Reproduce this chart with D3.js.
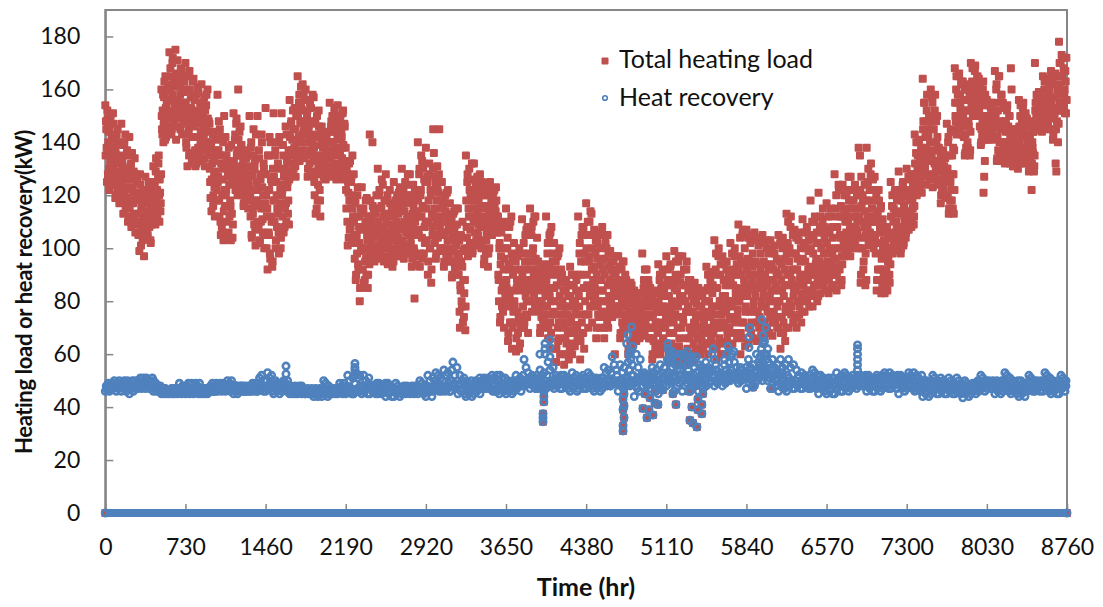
<!DOCTYPE html>
<html>
<head>
<meta charset="utf-8">
<script src="https://cdn.jsdelivr.net/npm/d3@7"></script>
<style>
  html, body { margin: 0; padding: 0; background: #fff; }
  svg { display: block; font-family: Lato, "Open Sans", sans-serif; }
</style>
</head>
<body>
<div id="chart"></div>
<script>
// Values, one row = 73 hours of the year
const loadValues = [
  154,148,138,152,128,144,122,136,150,131,141,126,
  147,125,138,119,133,143,122,129,140,117,135,127,
  147,120,131,113,139,126,143,116,123,135,110,128,
  142,118,130,108,136,122,112,127,134,106,120,125,
  125,110,118,99,128,106,115,121,103,112,97,119,
  127,112,120,104,117,125,108,122,102,115,110,118,
  131,115,124,109,134,119,112,127,135,110,121,117,
  160,145,152,140,157,148,165,142,155,150,162,146,
  174,150,165,143,158,172,147,161,155,175,141,153,
  171,152,163,146,158,168,150,143,160,155,165,148,
  170,140,160,131,152,145,167,136,157,148,133,163,
  164,135,150,131,158,142,161,138,147,133,155,144,
  162,133,150,138,157,131,145,154,140,160,135,148,
  147,125,138,114,132,143,120,128,112,135,141,122,
  158,127,148,112,135,105,142,120,130,103,150,116,
  142,122,133,105,128,138,112,118,103,131,125,109,
  151,128,141,122,147,135,120,160,130,144,125,138,
  139,122,131,116,136,126,118,134,128,121,115,124,
  150,120,138,105,128,113,145,109,133,101,118,125,
  150,117,137,102,128,110,143,123,106,132,100,115,
  153,120,112,92,135,105,142,96,126,110,93,130,
  151,118,135,100,125,108,140,113,98,130,122,104,
  151,122,139,106,129,115,146,110,133,125,118,109,
  156,135,147,128,141,152,130,138,145,127,150,133,
  165,140,155,133,148,161,137,152,143,158,135,146,
  160,137,150,127,145,156,132,142,153,129,147,139,
  157,125,143,113,135,150,118,130,146,122,112,139,
  146,130,138,127,142,133,126,140,136,129,144,131,
  155,134,146,127,150,140,130,153,137,144,126,148,
  154,135,146,128,150,132,142,138,152,126,147,130,
  138,115,128,101,121,132,107,118,125,103,135,112,
  128,105,118,88,112,98,123,92,108,80,115,100,
  123,100,113,87,108,95,118,90,105,85,110,98,
  143,118,112,100,140,108,115,95,105,110,120,98,
  130,108,120,96,115,103,126,100,112,95,118,105,
  128,105,118,94,112,100,122,97,109,115,93,107,
  125,105,116,97,110,120,101,113,107,123,99,118,
  130,108,120,96,114,125,101,117,111,128,98,105,
  128,107,118,93,113,124,100,81,110,120,97,105,
  140,112,128,93,120,135,104,116,130,98,108,125,
  138,110,127,90,118,132,100,122,87,113,105,145,
  136,112,127,96,118,131,104,121,145,108,115,99,
  125,105,116,93,110,120,100,113,97,122,107,95,
  117,100,110,89,105,113,95,108,92,115,102,98,
  115,90,103,70,84,95,78,110,88,74,100,69,
  135,108,125,97,115,130,102,120,112,132,99,118,
  132,110,122,101,115,127,105,118,112,128,108,100,
  125,103,115,94,110,120,98,106,123,93,112,100,
  125,108,118,105,113,121,110,116,107,123,112,106,
  112,88,100,72,94,106,78,85,110,70,96,82,
  115,85,100,65,92,108,72,80,112,62,96,76,
  102,78,92,61,85,97,68,74,100,64,88,71,
  111,85,98,70,92,105,75,80,108,68,95,88,
  115,92,105,76,98,110,82,88,112,78,95,85,
  95,80,90,68,85,74,92,70,78,88,72,82,
  112,85,98,66,92,105,72,80,108,62,95,76,
  102,80,92,57,86,97,65,72,100,60,88,75,
  90,72,84,56,78,66,88,60,75,82,58,69,
  93,74,86,60,80,68,90,63,77,84,71,65,
  112,82,98,58,90,105,68,75,108,62,95,85,
  117,90,105,70,97,110,78,85,113,72,100,93,
  107,85,98,66,90,102,75,80,105,70,94,88,
  108,84,96,66,90,102,74,80,105,70,93,87,
  99,82,92,74,87,95,78,60,90,84,76,97,
  97,78,88,66,82,92,72,75,95,68,85,80,
  88,72,82,60,76,85,65,70,86,62,79,74,
  84,72,78,65,80,70,75,83,66,77,73,68,
  98,78,85,67,92,72,82,75,70,88,66,80,
  85,70,80,58,75,65,83,60,72,78,62,68,
  94,76,88,60,82,70,90,65,78,85,63,72,
  97,75,88,57,82,68,93,62,78,86,59,72,
  99,78,90,57,84,70,95,63,80,87,60,74,
  97,74,86,56,80,66,92,60,76,84,58,70,
  88,70,82,57,76,64,85,60,72,79,62,67,
  85,70,78,60,75,65,82,62,72,68,80,64,
  93,74,85,60,80,68,88,65,76,83,62,71,
  103,78,92,58,85,70,97,64,80,90,60,75,
  97,76,88,60,82,70,92,65,78,86,62,73,
  102,80,92,64,86,74,97,68,83,90,66,77,
  109,82,97,60,90,72,105,66,85,94,63,78,
  107,84,96,64,90,76,102,68,86,93,66,80,
  106,84,95,65,90,76,101,70,86,92,67,80,
  105,85,95,66,90,78,100,70,87,92,68,82,
  103,84,94,67,88,76,98,72,85,91,70,80,
  105,84,95,62,88,74,100,68,82,92,65,78,
  113,90,102,70,95,80,108,75,88,98,72,85,
  107,86,98,70,92,80,103,75,88,95,72,83,
  111,90,102,76,95,84,106,80,88,99,78,93,
  118,92,105,78,98,86,110,82,94,102,80,90,
  121,95,108,83,100,90,111,86,98,104,84,92,
  117,95,107,83,100,90,112,86,98,104,85,92,
  128,100,115,84,108,93,124,88,105,112,86,97,
  124,105,115,97,110,100,120,98,112,127,103,107,
  127,108,118,100,112,104,122,101,115,107,110,120,
  138,115,135,87,127,100,120,92,110,124,86,105,
  138,112,125,101,118,106,128,104,115,122,102,110,
  127,105,118,84,112,92,122,88,108,115,83,98,
  111,92,103,83,98,87,108,84,95,100,90,105,
  125,105,116,98,110,102,121,100,113,107,119,103,
  129,108,120,98,113,104,124,101,116,110,122,106,
  130,113,122,107,118,110,126,108,120,115,128,112,
  143,128,136,120,131,125,140,122,133,127,138,130,
  164,148,155,132,142,124,152,136,145,128,150,140,
  160,145,157,123,137,128,152,133,148,126,142,130,
  138,126,133,117,129,122,136,120,131,125,135,127,
  147,130,140,113,125,118,144,122,135,115,128,137,
  168,150,160,143,155,147,165,145,158,152,163,148,
  163,148,156,135,143,138,160,140,152,146,158,137,
  170,155,163,150,158,153,167,151,160,156,165,152,
  164,150,157,139,145,142,160,121,127,133,154,148,
  156,145,150,141,148,143,153,142,147,144,155,146,
  167,150,160,133,142,137,165,140,155,145,158,135,
  155,140,148,132,144,136,152,134,146,138,150,142,
  168,160,145,131,140,134,143,137,132,139,135,142,
  156,140,150,132,145,136,153,134,147,138,151,142,
  149,135,143,129,138,133,146,122,140,136,144,131,
  170,155,150,145,157,148,159,146,152,147,154,149,
  165,152,160,145,156,148,163,147,158,150,162,153,
  167,155,162,141,150,145,165,132,129,148,158,152,
  178,170,165,155,173,160,152,168,158,151,163,172
];

// the thick middle of the red cloud, second reading per row
const loadCoreValues = [
  135,145,125,149,140,130,146,133,127,143,137,151,
  130,124,141,136,120,128,145,132,126,139,123,134,
  125,133,118,128,140,122,115,130,137,119,127,112,
  115,126,132,110,123,117,129,113,121,128,109,119,
  113,105,120,109,124,101,116,108,122,111,104,117,
  107,114,121,105,118,111,124,103,116,109,119,113,
  113,125,118,129,111,122,116,132,120,126,114,128,
  150,143,158,147,163,141,153,145,156,149,160,144,
  160,168,152,145,170,156,149,163,146,154,166,151,
  156,165,149,161,145,153,167,151,159,147,163,155,
  155,138,165,143,150,135,160,147,153,132,142,158,
  146,156,137,152,132,148,142,159,135,150,139,153,
  147,137,155,142,134,152,146,158,139,149,136,144,
  130,119,140,126,136,116,133,123,144,129,118,137,
  125,137,118,145,110,132,108,126,140,114,122,135,
  120,135,110,127,106,124,130,116,139,113,104,126,
  133,127,143,124,149,137,129,141,122,135,146,131,
  127,120,133,117,129,123,137,119,131,125,135,118,
  127,112,140,104,122,135,116,130,107,143,118,110,
  122,108,134,103,126,115,140,111,120,130,105,117,
  128,100,115,135,106,122,98,140,112,125,95,118,
  127,110,137,103,120,115,132,106,142,117,100,124,
  120,112,135,127,108,130,117,143,123,113,137,126,
  142,132,148,137,129,145,135,153,131,140,150,134,
  150,142,158,136,147,153,140,162,144,134,156,148,
  143,135,152,130,146,140,155,128,148,136,158,133,
  138,120,148,128,115,142,124,152,133,118,145,130,
  135,128,141,132,127,138,130,143,134,129,140,137,
  140,130,148,135,128,144,132,151,138,127,146,142,
  141,131,148,136,129,144,134,151,139,127,146,133,
  122,130,110,125,104,118,133,108,127,115,120,102,
  110,96,117,90,105,120,94,112,102,85,108,99,
  107,92,115,100,88,110,96,119,103,90,112,94,
  112,102,107,97,116,104,110,99,113,106,101,108,
  110,100,122,106,98,116,104,124,108,97,113,102,
  110,101,120,96,113,106,117,99,108,103,115,95,
  112,100,118,106,98,114,104,121,109,102,116,97,
  115,103,122,110,98,118,106,124,112,100,120,108,
  112,102,120,96,109,116,99,122,105,94,114,107,
  118,105,130,98,122,112,133,96,115,126,102,110,
  115,103,125,95,110,128,100,120,92,108,130,112,
  115,102,125,98,110,122,105,128,112,100,118,106,
  110,100,118,95,106,114,98,121,103,112,97,108,
  103,95,112,90,107,99,114,93,105,101,109,96,
  90,96,76,86,105,80,93,72,99,83,88,78,
  118,104,128,100,112,122,107,126,115,98,120,110,
  118,106,125,103,113,120,109,127,116,102,122,111,
  112,100,120,96,108,116,103,122,110,98,114,105,
  115,110,120,107,117,112,122,106,114,118,109,111,
  90,80,102,74,97,84,108,76,92,87,100,79,
  88,78,104,68,94,82,110,72,98,70,90,84,
  80,72,95,66,88,76,98,62,84,70,92,74,
  90,78,102,72,95,82,107,74,88,98,80,85,
  95,84,108,80,100,90,112,78,96,86,104,92,
  84,76,92,70,88,80,94,73,86,78,90,75,
  88,78,102,70,94,82,106,68,90,75,98,85,
  85,75,95,62,90,70,98,66,82,78,92,72,
  80,70,87,60,75,84,64,78,68,86,72,62,
  82,72,90,64,78,86,68,80,75,88,70,66,
  90,78,102,65,95,72,108,68,85,98,80,75,
  100,86,110,75,95,82,114,78,92,105,88,80,
  92,82,103,70,96,78,106,74,88,100,84,76,
  92,80,105,70,96,76,100,72,86,98,82,78,
  88,80,95,76,90,84,97,75,86,92,78,82,
  85,76,93,68,88,80,95,70,84,78,90,73,
  78,70,85,62,80,74,87,64,76,82,68,72,
  76,70,82,66,78,72,83,68,75,80,71,74,
  80,72,88,68,84,75,92,70,78,86,66,74,
  74,66,82,60,78,70,84,62,72,76,64,68,
  80,72,90,62,85,76,92,66,78,86,70,74,
  82,72,92,60,86,76,94,64,80,88,68,74,
  85,75,95,60,88,78,97,66,82,90,70,74,
  82,72,92,58,86,76,95,62,78,88,66,70,
  76,68,85,60,80,72,87,62,74,82,66,70,
  74,66,82,60,78,70,84,62,72,76,64,68,
  80,70,90,64,84,74,91,66,78,86,68,72,
  85,75,98,62,90,70,100,66,80,94,72,78,
  82,72,94,64,86,76,95,68,80,90,70,74,
  88,78,98,68,90,80,100,72,85,94,74,82,
  92,80,104,68,95,84,107,72,88,100,76,82,
  92,82,104,70,95,85,105,72,88,98,78,76,
  90,82,103,72,94,85,104,74,88,98,78,70,
  90,82,102,72,94,86,103,76,88,98,80,74,
  88,80,100,72,92,84,101,74,86,96,78,70,
  90,80,102,68,94,84,104,72,86,96,76,70,
  98,86,110,76,100,90,112,78,92,105,82,74,
  92,84,104,74,96,86,106,78,90,100,82,76,
  96,86,106,80,100,88,108,84,92,103,82,90,
  100,90,110,84,104,92,112,86,96,106,88,82,
  102,92,112,86,106,94,115,88,98,108,90,84,
  102,92,112,88,106,94,115,90,98,108,86,96,
  108,96,120,90,112,100,122,92,104,116,88,94,
  112,102,120,99,114,106,122,100,110,118,104,97,
  115,105,122,102,118,108,124,104,112,120,106,100,
  112,100,122,90,116,104,118,95,108,114,98,88,
  118,108,130,103,122,110,132,105,115,126,100,112,
  110,98,120,88,114,102,118,92,106,116,96,86,
  100,90,106,85,102,92,108,88,96,104,87,94,
  112,104,120,99,115,106,122,101,110,118,103,108,
  114,106,122,100,118,108,125,102,112,120,104,110,
  120,112,127,108,122,114,128,110,118,124,109,116,
  132,126,140,122,135,128,141,124,130,137,121,127,
  145,135,155,130,148,138,158,133,142,150,126,136,
  148,135,155,127,145,132,158,130,140,150,125,138,
  130,124,136,120,132,126,137,122,128,134,119,125,
  130,120,142,115,135,125,145,118,128,138,113,122,
  155,148,165,144,158,150,166,146,153,162,143,149,
  150,142,160,136,152,146,162,138,148,156,135,144,
  160,154,168,151,162,156,169,152,158,164,150,155,
  152,146,162,140,155,148,163,143,150,158,141,145,
  150,144,154,142,148,146,155,143,149,152,141,147,
  150,142,162,134,152,146,165,136,148,158,133,140,
  146,138,153,133,148,140,154,135,144,150,132,137,
  140,134,145,131,141,136,144,132,138,143,130,135,
  146,138,154,133,148,142,155,135,144,150,132,137,
  140,134,147,130,142,136,148,132,138,144,129,135,
  152,148,158,145,154,150,159,146,151,156,144,147,
  155,149,163,146,157,151,164,147,153,160,145,150,
  155,149,164,143,157,151,166,145,153,160,140,147,
  162,155,170,152,165,158,172,153,160,167,151,156
];

const recoveryValues = [
  46,48,47,49,46,48,47,49, 47,50,48,46,49,47,50,48, 46,49,47,50,48,46,50,49, 45,49,47,50,46,48,50,47,
  47,50,48,51,47,49,51,48, 47,51,49,50,47,50,48,51, 46,48,47,46,48,47,46,48, 45,47,46,45,47,46,45,46,
  45,46,47,45,46,45,47,46, 45,47,49,46,45,48,46,47, 45,48,46,49,45,47,49,46, 45,47,49,46,48,45,49,47,
  45,46,47,45,46,47,45,46, 46,48,47,49,46,48,47,49, 46,48,47,49,46,47,49,48, 46,48,50,47,49,46,50,48,
  45,47,46,48,45,47,46,48, 46,47,48,46,47,48,46,47, 46,48,47,49,46,48,49,47, 46,49,51,47,52,48,46,50,
  46,50,53,47,51,48,52,46, 45,48,50,46,49,47,45,48, 46,48,50,47,49,46,50,48, 45,46,47,45,46,47,45,46,
  45,46,47,46,45,47,46,45, 45,46,47,45,46,45,47,46, 44,46,47,45,44,46,47,45, 44,47,50,45,49,46,44,48,
  45,46,47,45,46,47,45,46, 45,47,49,46,48,45,49,47, 45,48,52,46,50,47,45,51, 45,49,53,46,51,47,52,48,
  45,48,52,46,50,47,45,51, 45,47,48,46,47,48,45,46, 45,47,48,46,45,48,47,46, 44,47,49,45,48,46,44,47,
  44,47,49,45,48,46,44,47, 45,47,48,46,45,48,47,46, 45,46,48,47,45,48,46,47, 45,47,50,46,49,47,45,48,
  44,48,52,46,50,47,44,51, 47,50,53,48,52,49,47,51, 46,50,54,48,52,47,53,49, 46,50,54,57,48,52,47,55,
  45,48,52,46,50,47,51,45, 44,46,48,45,47,46,44,47, 45,48,50,46,49,47,45,48, 47,49,51,48,50,47,51,49,
  47,50,52,48,51,49,47,52, 47,50,52,48,51,49,47,51, 45,48,50,46,49,47,45,50, 46,49,52,47,50,48,51,46,
  48,52,58,50,55,49,53,51, 47,50,52,48,51,49,47,52, 47,51,54,48,52,49,53,50, 47,52,57,49,54,50,48,55,
  47,50,52,48,51,49,47,52, 47,49,52,48,51,50,47,49, 46,49,53,47,51,48,52,46, 47,49,51,48,50,47,51,49,
  47,50,53,48,52,49,47,51, 46,49,51,47,50,48,46,51, 47,51,55,49,53,48,54,50, 48,53,59,50,56,49,54,52,
  46,50,56,48,53,47,55,51, 48,51,57,54,60,50,49,52, 44,50,60,47,55,46,58,52, 48,50,53,49,52,48,51,50,
  47,51,55,49,53,48,54,50, 45,50,56,47,53,48,55,51, 48,53,62,50,58,49,55,52, 46,51,60,48,56,49,54,52,
  46,51,60,48,56,49,54,52, 46,51,59,48,55,49,53,50, 46,50,55,48,53,47,54,51, 48,51,55,49,53,50,54,52,
  48,50,54,49,52,50,53,51, 48,51,56,49,54,50,52,53, 50,54,60,52,57,51,55,53, 49,52,55,50,54,51,53,52,
  47,52,58,49,55,50,48,56, 48,53,60,50,57,51,55,52, 50,54,65,52,60,53,57,51, 47,52,58,49,55,50,48,56,
  46,52,58,48,55,50,47,56, 46,52,58,48,55,49,47,56, 47,50,54,48,52,49,47,53, 47,50,52,48,51,49,47,52,
  47,51,54,48,53,49,47,52, 45,49,52,47,51,48,46,50, 45,48,51,46,50,47,45,49, 45,49,53,47,51,48,46,52,
  46,50,53,47,52,48,46,51, 47,50,52,48,51,49,47,52, 48,50,52,49,51,50,48,52, 46,49,52,47,51,48,46,50,
  46,50,52,47,51,48,46,52, 47,51,53,48,52,49,47,53, 47,50,52,48,51,49,47,52, 45,49,52,47,51,48,46,50,
  47,51,53,48,52,50,47,53, 46,50,52,47,51,48,46,52, 44,47,50,45,49,46,44,48, 45,49,52,46,51,47,45,50,
  45,48,51,46,50,47,45,49, 45,48,51,46,50,47,45,49, 45,48,51,46,50,47,45,49, 43.5,47,50,45,49,46,44,48,
  45,47,49,46,48,45,49,47, 46,49,52,47,51,48,46,50, 47,49,50,48,49,47,50,48, 45,48,50,46,49,47,45,50,
  46,50,53,47,52,48,46,51, 45,48,50,46,49,47,45,50, 44,47,50,45,49,46,44,48, 46,49,52,47,51,48,46,50,
  46,48,50,47,49,46,50,48, 46,50,53,47,52,48,46,51, 45,48,50,46,49,47,45,50, 45,49,52,47,51,48,46,50
];

// middle of the blue band, second reading per row
const recoveryCoreValues = [
  47,48,47,48, 48,49,48,49, 48,48,49,48, 48,48,47,49, 49,48,49,50, 49,49,50,49, 47,47,46,47, 46,46,46,47,
  46,46,46,46, 46,47,47,46, 47,46,47,47, 47,46,47,47, 46,46,46,46, 47,47,48,47, 47,47,48,48, 48,48,47,48,
  46,46,47,46, 47,47,46,47, 47,47,48,47, 48,48,49,47, 48,48,49,49, 47,47,48,47, 48,47,48,48, 46,46,46,45,
  46,45,46,46, 46,46,46,45, 45,45,46,46, 46,46,47,47, 46,46,46,45, 46,47,47,46, 47,47,49,48, 48,47,49,49,
  47,47,49,48, 46,47,46,46, 46,46,47,46, 46,46,47,46, 46,46,47,46, 46,46,47,46, 46,47,47,46, 47,47,46,47,
  46,48,49,47, 48,49,50,49, 48,49,50,48, 48,49,51,50, 47,48,49,47, 46,46,46,45, 47,46,47,47, 48,49,48,50,
  49,49,50,48, 49,49,50,48, 47,48,49,48, 47,48,49,48, 49,50,51,50, 49,50,51,49, 49,50,51,50, 49,50,52,50,
  49,50,51,49, 48,49,50,49, 49,50,50,48, 49,49,50,49, 49,50,51,50, 48,49,50,48, 50,51,52,51, 50,52,53,51,
  49,50,52,51, 51,52,53,50, 50,52,54,52, 50,51,52,51, 50,51,52,53, 49,51,52,50, 52,53,54,52, 50,51,52,51,
  51,52,53,51, 51,52,52,50, 51,52,55,53, 51,52,54,53, 51,53,55,53, 50,52,54,52, 51,52,53,53, 49,50,51,50,
  49,50,51,49, 49,50,51,48, 48,49,50,48, 48,50,51,49, 49,50,51,48, 49,50,51,49, 50,51,50,49, 48,49,51,50,
  48,49,51,49, 49,50,51,50, 49,50,51,49, 48,50,51,49, 49,50,51,50, 48,50,51,49, 47,48,49,47, 48,49,50,48,
  47,48,49,48, 47,48,49,48, 47,48,49,48, 46,47,48,47, 46,47,48,47, 48,49,50,48, 48,48,49,48, 47,48,49,47,
  48,49,50,48, 47,48,49,47, 46,47,48,47, 48,49,50,48, 47,48,49,48, 48,49,50,48, 47,48,49,47, 47,48,50,48
];

// Hours when the load dropped low and recovery covered all of it (same value in both series)
const dipHours = [0,8760,3987,3987,3987,3995,3995,3995,4716,4716,4725,4716,4725,4716,4725,
  4897,4915,4934,4952,4961,4989,5007,5034,5007,5079,5170,5198,
  5316,5343,5325,5389,5352,5434,5434,5397,5443,5398,5371,5899,6072,6172];
const dipValues = [0,0,34.5,36,37.5,42,44,46,31,33,36,39,40.5,43,45,
  39.5,45,36,39,43.5,37,41.5,41,46,46.5,45,41,
  46,40,35,32.5,34,41,37.5,39,45,43,48,47.5,47,47.5];

// Recovery readings standing above the main band
const spikeHours = [1646,1646,2274,2274,2274,2274,4050,4005,4005,3959,4050,4050,4005,
  4794,4760,4749,4806,5535,5526,5872,5863,5863,5981,6017,5990,5990,6008,5963,
  5125,5161,5298,5671,5725,6852,6852,6852,6852,6852,6852,
  4770,4785,4800,4775,4795,4780,5130,5145,5120,5155,5170,5190,5215,5240,5265,5290,5310,5335,5360,5385,
  5410,5440,5470,5500,5545,5560,5640,5660,5680,5700,5975,5985,6000,6020,6035,5960,5970,5990,6010,6030];
const spikeValues = [55.5,52.5,56.5,55,54,52,65.4,64,62,60,62.5,59,60,
  70.3,67.3,64,63,62,60,70,66.5,62.5,73,70,67,64,60,59,
  64,61,61,63,61,63.5,62,60,58,56,54,
  60,58,56,54,52,61,62,60,58,57,59,56,58,60,57,59,56,58,57,59,
  56,55,57,54,58,56,58,60,57,59,62,60,64,58,62,56,54,57,55,53];

// Recovery sat at zero for the whole year whenever the unit was off
const zeroSpan = [0, 8760];

const xTicks = [0,730,1460,2190,2920,3650,4380,5110,5840,6570,7300,8030,8760];
const yTicks = [0,20,40,60,80,100,120,140,160,180];
const seriesNames = ['Total heating load', 'Heat recovery'];

const RED = '#C0504D', BLUE = '#4F81BD', AXIS = '#868686';

const svg = d3.select('#chart').append('svg')
  .attr('width', 1103)
  .attr('height', 607);

const x = d3.scaleLinear().domain([0, 8760]).range([105.3, 1067]);
const y = d3.scaleLinear().domain([0, 190]).range([513, 10]);

// plot frame
svg.append('rect')
  .attr('x', x(0)).attr('y', y(190))
  .attr('width', x(8760) - x(0)).attr('height', y(0) - y(190))
  .attr('fill', 'none').attr('stroke', AXIS).attr('stroke-width', 2);

// axes, ticks point inwards like the original
const xAxis = svg.append('g')
  .attr('transform', `translate(0,${y(0)})`)
  .call(d3.axisBottom(x).tickValues(xTicks).tickSizeInner(-9).tickSizeOuter(0).tickPadding(26).tickFormat(d3.format('d')));
const yAxis = svg.append('g')
  .attr('transform', `translate(${x(0)},0)`)
  .call(d3.axisLeft(y).tickValues(yTicks).tickSizeInner(-8).tickSizeOuter(0).tickPadding(25).tickFormat(d3.format('d')));

[xAxis, yAxis].forEach(a => {
  a.select('.domain').attr('stroke', AXIS).attr('stroke-width', 2);
  a.selectAll('.tick line').attr('stroke', AXIS).attr('stroke-width', 1.5);
  a.selectAll('text').attr('fill', '#111').attr('font-size', 23).attr('font-family', 'Lato');
});

// spread a flat list of readings evenly over the year
const overYear = (values, shift) => values.map((v, i) => ({ hour: (i + shift) * 8760 / values.length, v }));
const dipPoints = dipValues.map((v, i) => ({ hour: dipHours[i], v }));

// red squares first, blue rings on top
const loadPoints = overYear(loadValues, 0)
  .concat(overYear(loadCoreValues, 0.5))
  .concat(dipPoints);
const recoveryPoints = overYear(recoveryValues, 0)
  .concat(overYear(recoveryCoreValues, 0.5))
  .concat(dipPoints)
  .concat(spikeValues.map((v, i) => ({ hour: spikeHours[i], v })));

svg.append('g').selectAll('rect')
  .data(loadPoints)
  .enter().append('rect')
  .attr('x', d => x(d.hour) - 4)
  .attr('y', d => y(d.v) - 4)
  .attr('width', 8).attr('height', 8).attr('rx', 1)
  .attr('fill', RED);

svg.append('line')
  .attr('x1', x(zeroSpan[0])).attr('x2', x(zeroSpan[1]))
  .attr('y1', y(0)).attr('y2', y(0))
  .attr('stroke', BLUE).attr('stroke-width', 8);

svg.append('g').selectAll('circle')
  .data(recoveryPoints)
  .enter().append('circle')
  .attr('cx', d => x(d.hour))
  .attr('cy', d => y(d.v))
  .attr('r', 3.2)
  .attr('fill', 'none')
  .attr('stroke', BLUE)
  .attr('stroke-width', 2.6);

// legend
const legend = svg.append('g');
legend.append('rect').attr('x', 601.5).attr('y', 57.5).attr('width', 7).attr('height', 7).attr('rx', 1).attr('fill', RED);
legend.append('circle').attr('cx', 605).attr('cy', 98).attr('r', 2.3).attr('fill', 'none').attr('stroke', BLUE).attr('stroke-width', 1.6);
legend.selectAll('text')
  .data(seriesNames)
  .enter().append('text')
  .attr('x', 619)
  .attr('y', (d, i) => i === 0 ? 68 : 106)
  .attr('font-size', 25)
  .attr('fill', '#111')
  .text(d => d);

// axis titles
svg.append('text')
  .attr('x', 586).attr('y', 596)
  .attr('text-anchor', 'middle')
  .attr('font-size', 25).attr('font-weight', 700).attr('fill', '#111')
  .text('Time (hr)');
svg.append('text')
  .attr('transform', 'translate(32,292) rotate(-90)')
  .attr('text-anchor', 'middle')
  .attr('font-size', 22).attr('font-weight', 700).attr('fill', '#111')
  .attr('letter-spacing', -0.35)
  .text('Heating load or heat recovery(kW)');
</script>
</body>
</html>
